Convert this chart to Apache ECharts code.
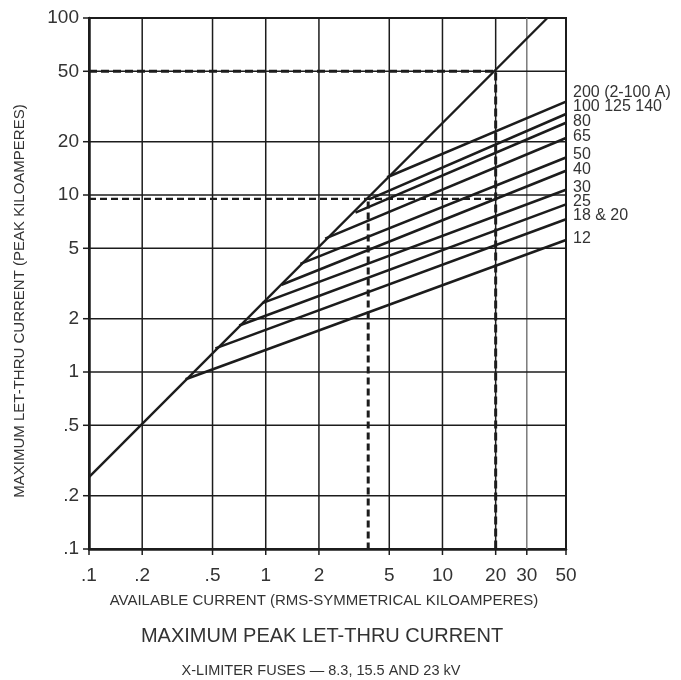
<!DOCTYPE html>
<html><head><meta charset="utf-8">
<script src="https://cdn.jsdelivr.net/npm/echarts@6/dist/echarts.min.js"></script>
<style>html,body{margin:0;padding:0;background:#fff}#c{width:681px;height:680px}</style>
</head><body><div id="c"></div>
<script>
// ---- data ----
const xTicks = [0.1, 0.2, 0.5, 1, 2, 5, 10, 20, 30, 50];
const xTickLabels = ['.1', '.2', '.5', '1', '2', '5', '10', '20', '30', '50'];
const yTicks = [0.1, 0.2, 0.5, 1, 2, 5, 10, 20, 50, 100];
const yTickLabels = ['.1', '.2', '.5', '1', '2', '5', '10', '20', '50', '100'];

// envelope (symmetrical-to-peak) line
const envelopeX = [0.1, 39.2];
const envelopeY = [0.255, 100];

// fuse ratings, each line runs from its start on the envelope to 50 kA
const fuseLabels = ['200 (2-100 A)', '100 125 140', '80', '65', '50', '40', '30', '25', '18 & 20', '12'];
const fuseStartX = [4.86, 3.84, 3.22, 2.17, 1.57, 1.23, 0.955, 0.708, 0.519, 0.352];
const fuseStartY = [12.6, 9.44, 7.95, 5.67, 4.08, 3.11, 2.45, 1.83, 1.36, 0.91];
const fuseEndX = 50;
const fuseEndY = [33.7, 28.7, 25.6, 21.0, 16.3, 13.7, 10.7, 8.85, 7.3, 5.57];

// example dashed reading lines
const dashA_X = [0.1, 20, 20];
const dashA_Y = [50, 50, 0.1];
const dashB_X = [0.1, 20];
const dashB_Y = [9.5, 9.5];
const dashC_X = [3.8, 3.8];
const dashC_Y = [9.2, 0.1];

// ---- layout / style ----
const X_MIN = 0.1, X_MAX = 50, Y_MIN = 0.1, Y_MAX = 100;
const FONT = 'Liberation Sans, Arial, Helvetica, sans-serif';
const INK = '#1c1c1c';
const TXT = '#333333';
const labelYpx = [92.7, 106.7, 121.7, 136.7, 155, 169.3, 187.3, 201.7, 216, 239];

const zip = (xs, ys) => xs.map((x, i) => [x, ys[i]]);

const chart = echarts.init(document.getElementById('c'), null, {renderer: 'canvas'});

const series = [];

// grid lines + ticks + labels for x
series.push({
  type: 'custom', silent: true, z: 1, clip: false,
  data: xTicks.map(v => [v, Y_MIN]),
  encode: {x: 0, y: 1},
  renderItem(params, api) {
    const v = api.value(0);
    const b = api.coord([v, Y_MIN]);
    const t = api.coord([v, Y_MAX]);
    const ch = [];
    if (v > X_MIN && v < X_MAX) {
      ch.push({type: 'line', shape: {x1: b[0], y1: b[1], x2: t[0], y2: t[1]},
        style: {stroke: v === 30 ? '#7a7a7a' : INK, lineWidth: 1.5}});
    }
    ch.push({type: 'line', shape: {x1: b[0], y1: b[1], x2: b[0], y2: b[1] + 6},
      style: {stroke: INK, lineWidth: 1.5}});
    ch.push({type: 'text', x: b[0], y: b[1] + 27,
      style: {text: xTickLabels[params.dataIndex], align: 'center', verticalAlign: 'middle',
        font: '19px ' + FONT, fill: TXT}});
    return {type: 'group', children: ch};
  }
});

// grid lines + ticks + labels for y
series.push({
  type: 'custom', silent: true, z: 1, clip: false,
  data: yTicks.map(v => [X_MIN, v]),
  encode: {x: 0, y: 1},
  renderItem(params, api) {
    const v = api.value(1);
    const l = api.coord([X_MIN, v]);
    const r = api.coord([X_MAX, v]);
    const ch = [];
    if (v > Y_MIN && v < Y_MAX) {
      ch.push({type: 'line', shape: {x1: l[0], y1: l[1], x2: r[0], y2: r[1]},
        style: {stroke: INK, lineWidth: 1.5}});
    }
    ch.push({type: 'line', shape: {x1: l[0] - 6, y1: l[1], x2: l[0], y2: l[1]},
      style: {stroke: INK, lineWidth: 1.5}});
    ch.push({type: 'text', x: l[0] - 10, y: l[1],
      style: {text: yTickLabels[params.dataIndex], align: 'right', verticalAlign: 'middle',
        font: '19px ' + FONT, fill: TXT}});
    return {type: 'group', children: ch};
  }
});

const lineSeries = (data, width, type, z) => ({
  type: 'line', data, symbol: 'none', showSymbol: false, silent: true, z: z || 3,
  animation: false,
  lineStyle: {color: INK, width, type: type || 'solid', cap: 'butt'}
});

series.push(lineSeries(zip(envelopeX, envelopeY), 2.4));
fuseStartX.forEach((sx, i) => {
  series.push(lineSeries([[sx, fuseStartY[i]], [fuseEndX, fuseEndY[i]]], 2.6));
});
series.push(lineSeries(zip(dashA_X, dashA_Y), 3, [8, 4], 4));
series.push(lineSeries(zip(dashB_X, dashB_Y), 2.2, [7, 4], 4));
series.push(lineSeries(zip(dashC_X, dashC_Y), 3, [7, 4], 4));

const graphics = fuseLabels.map((t, i) => ({
  type: 'text', left: 573, top: labelYpx[i] - 8,
  style: {text: t, font: '16px ' + FONT, fill: TXT}
}));
graphics.push({
  type: 'text', x: 324, y: 601,
  style: {text: 'AVAILABLE CURRENT (RMS-SYMMETRICAL KILOAMPERES)', align: 'center', verticalAlign: 'middle',
    font: '15px ' + FONT, fill: TXT}
});
graphics.push({
  type: 'text', x: 20, y: 301, rotation: Math.PI / 2,
  style: {text: 'MAXIMUM LET-THRU CURRENT (PEAK KILOAMPERES)', align: 'center', verticalAlign: 'middle',
    font: '15px ' + FONT, fill: TXT}
});
graphics.push({
  type: 'text', x: 322, y: 636,
  style: {text: 'MAXIMUM PEAK LET-THRU CURRENT', align: 'center', verticalAlign: 'middle',
    font: '20px ' + FONT, fill: TXT}
});
graphics.push({
  type: 'text', x: 321, y: 671,
  style: {text: 'X-LIMITER FUSES \u2014 8.3, 15.5 AND 23 kV', align: 'center', verticalAlign: 'middle',
    font: '14.5px ' + FONT, fill: TXT}
});

chart.setOption({
  animation: false,
  backgroundColor: '#ffffff',
  grid: {left: 89, top: 18, width: 477, height: 531, show: true, borderColor: INK, borderWidth: 2, containLabel: false},
  xAxis: {type: 'log', logBase: 10, min: X_MIN, max: X_MAX,
    axisLine: {show: true, lineStyle: {color: INK, width: 2.5}},
    axisTick: {show: false}, axisLabel: {show: false}, splitLine: {show: false}},
  yAxis: {type: 'log', logBase: 10, min: Y_MIN, max: Y_MAX,
    axisLine: {show: true, lineStyle: {color: INK, width: 2.5}},
    axisTick: {show: false}, axisLabel: {show: false}, splitLine: {show: false}},
  series,
  graphic: graphics
});
</script>
</body></html>
